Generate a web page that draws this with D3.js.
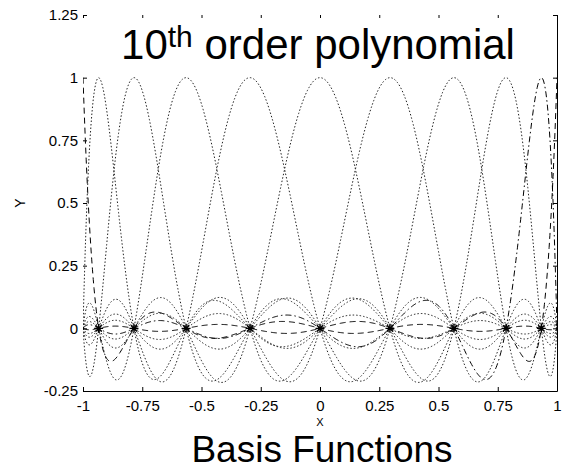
<!DOCTYPE html>
<html>
<head>
<meta charset="utf-8">
<script src="https://cdn.jsdelivr.net/npm/d3@7"></script>
<style>
body { margin: 0; background: #fff; }
text { font-family: "Liberation Sans", Arial, sans-serif; fill: #000; }
</style>
</head>
<body>
<script>
"use strict";

// Data

// 10th order nodes (Gauss-Lobatto points)
let nodes = [-1, -0.934, -0.785, -0.565, -0.295, 0, 0.295, 0.565, 0.785, 0.934, 1];
let markerNodes = [-0.934, -0.785, -0.565, -0.295, 0, 0.295, 0.565, 0.785, 0.934];
let xTicks = [-1, -0.75, -0.5, -0.25, 0, 0.25, 0.5, 0.75, 1];
let yTicks = [-0.25, 0, 0.25, 0.5, 0.75, 1, 1.25];
let xTickLabels = ["-1", "-0.75", "-0.5", "-0.25", "0", "0.25", "0.5", "0.75", "1"];
let yTickLabels = ["-0.25", "0", "0.25", "0.5", "0.75", "1", "1.25"];
let lineStyles = ["--", ":", ":", ":", ":", ":", ":", ":", ":", "-.", "--"];

// Layout

let svgWidth = 566;
let svgHeight = 469;
let margin = {top: 15, right: 9, bottom: 78, left: 83};
let width = svgWidth - margin.left - margin.right;
let height = svgHeight - margin.top - margin.bottom;

let dash = {"--": "6,4", "-.": "6,3,1.5,3", ":": "1.5,2", "-": null};

let xScale = d3.scaleLinear()
    .domain([-1, 1])
    .range([0, width]);

let yScale = d3.scaleLinear()
    .domain([-0.25, 1.25])
    .range([height, 0]);

let svg = d3.select("body").append("svg")
    .attr("width", svgWidth)
    .attr("height", svgHeight);

let g = svg.append("g")
    .attr("transform", `translate(${margin.left}, ${margin.top})`);

svg.append("defs").append("clipPath")
    .attr("id", "plotClip")
    .append("rect")
    .attr("x", 0)
    .attr("y", 0)
    .attr("width", width)
    .attr("height", height);

// Basis functions: Lagrange polynomials through the nodes

function basis(j, x) {
    let v = 1;
    for (let m = 0; m < nodes.length; m++) {
        if (m == j) continue;
        v *= (x - nodes[m]) / (nodes[j] - nodes[m]);
    }
    return v;
}

let samples = d3.range(0, 601).map(i => -1 + 2 * i / 600);

let line = d3.line()
    .x(d => xScale(d[0]))
    .y(d => yScale(d[1]));

let curves = g.append("g")
    .attr("clip-path", "url(#plotClip)");

nodes.forEach((n, j) => {
    let style = lineStyles[j];
    curves.append("path")
        .datum(samples.map(x => [x, basis(j, x)]))
        .attr("d", line)
        .attr("fill", "none")
        .attr("stroke", style == ":" ? "#222" : "#000")
        .attr("stroke-width", 1)
        .attr("stroke-dasharray", dash[style]);
});

// Star markers at the nodes

let star = 4.5;
g.selectAll(".star")
    .data(markerNodes)
    .enter().append("path")
    .attr("class", "star")
    .attr("transform", d => `translate(${xScale(d)}, ${yScale(0)})`)
    .attr("d", `M${-star},0H${star}M0,${-star}V${star}` +
        `M${-star * 0.7},${-star * 0.7}L${star * 0.7},${star * 0.7}` +
        `M${-star * 0.7},${star * 0.7}L${star * 0.7},${-star * 0.7}`)
    .attr("stroke", "#000")
    .attr("stroke-width", 1.3)
    .attr("fill", "none");

// Axes (ticks point inward, only bottom and right edges drawn)

let xBottom = d3.axisBottom(xScale)
    .tickValues(xTicks)
    .tickFormat((d, i) => xTickLabels[i])
    .tickSize(-4)
    .tickSizeOuter(0)
    .tickPadding(9);

let yLeft = d3.axisLeft(yScale)
    .tickValues(yTicks)
    .tickFormat((d, i) => yTickLabels[i])
    .tickSize(-4)
    .tickSizeOuter(0)
    .tickPadding(5);

let xTop = d3.axisTop(xScale)
    .tickValues(xTicks)
    .tickFormat("")
    .tickSize(-3)
    .tickSizeOuter(0);

let yRight = d3.axisRight(yScale)
    .tickValues(yTicks)
    .tickFormat("")
    .tickSize(-4)
    .tickSizeOuter(0);

g.append("g")
    .attr("transform", `translate(0, ${height})`)
    .call(xBottom);

g.append("g")
    .call(yLeft)
    .select(".domain").remove();

g.append("g")
    .call(xTop)
    .select(".domain").remove();

g.append("g")
    .attr("transform", `translate(${width}, 0)`)
    .call(yRight);

g.selectAll(".domain, .tick line")
    .attr("stroke", "#000")
    .attr("stroke-width", 1);

g.selectAll(".tick text")
    .style("font-size", "15px")
    .style("font-family", "'Liberation Sans', Arial, sans-serif")
    .attr("fill", "#000");

// Labels

let title = svg.append("text")
    .attr("x", 318)
    .attr("y", 59)
    .attr("text-anchor", "middle")
    .style("font-size", "42px");
title.append("tspan").text("10");
title.append("tspan").attr("dy", -12).style("font-size", "30px").text("th");
title.append("tspan").attr("dy", 12).text(" order polynomial");

svg.append("text")
    .attr("x", margin.left + width / 2)
    .attr("y", 426)
    .attr("text-anchor", "middle")
    .style("font-size", "11px")
    .text("X");

svg.append("text")
    .attr("transform", "translate(25, 203) rotate(-90)")
    .attr("text-anchor", "middle")
    .style("font-size", "14px")
    .text("Y");

svg.append("text")
    .attr("x", 322)
    .attr("y", 462)
    .attr("text-anchor", "middle")
    .style("font-size", "37px")
    .text("Basis Functions");
</script>
</body>
</html>
